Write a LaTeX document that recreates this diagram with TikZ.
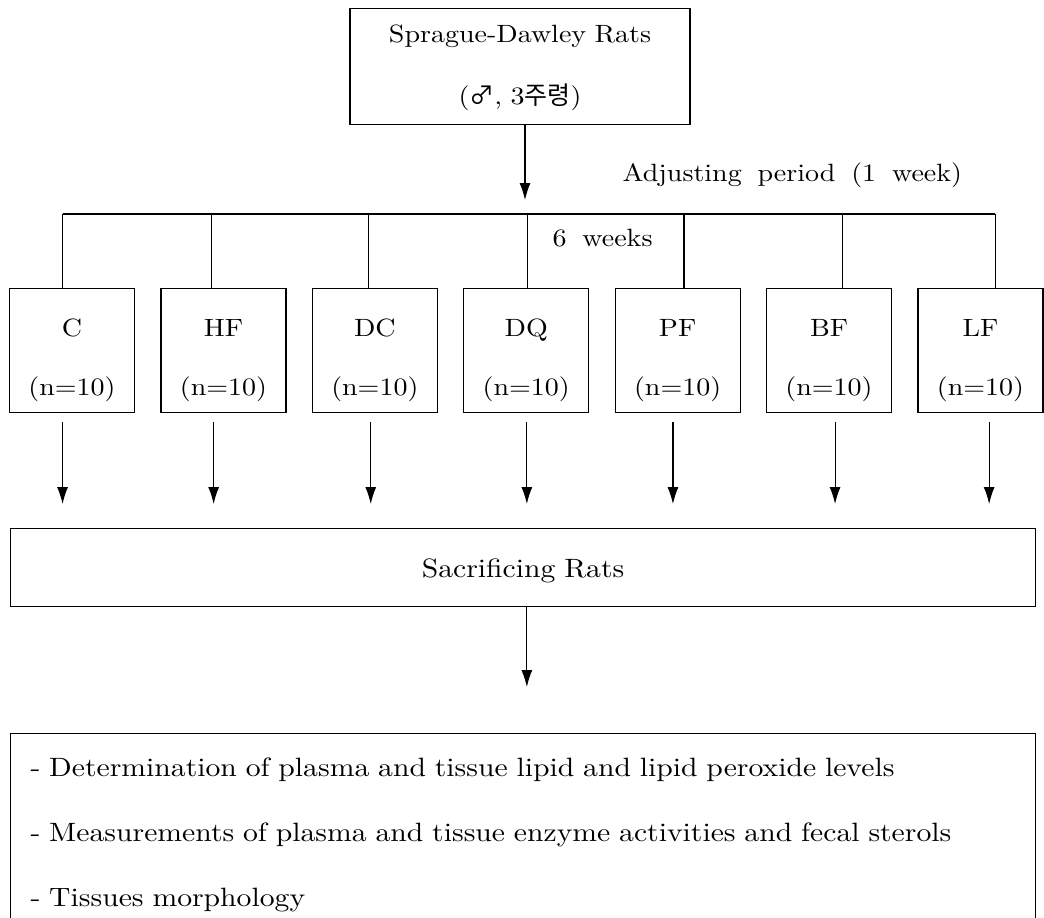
\documentclass[tikz,border=0pt]{standalone}
\usepackage{fontspec}
\setmainfont{lmroman10-regular.otf}[FakeStretch=1.12, WordSpace=1.7]
\newfontfamily\cjk{Noto Sans CJK KR}
\usetikzlibrary{arrows.meta, positioning}

\begin{document}
\begin{tikzpicture}[x=1pt, y=-1pt, line width=1.1pt, node distance=25.3pt,
    >={Latex[length=17pt,width=11pt]}, font=\fontsize{25}{59}\selectfont]
    % Styles
    \tikzstyle{block} = [rectangle, draw, inner sep=0pt, align=center]
    \tikzstyle{group} = [block, text width=125pt, text height=48pt, text depth=76pt]
    \tikzstyle{wide} = [block, text width=1025pt, font=\fontsize{26.5}{65}\selectfont]
    \tikzstyle{caption} = [inner sep=0pt]
    \tikzstyle{arrow} = [->]

    \useasboundingbox (0,0) rectangle (1044,918);

    % Nodes
    \node[block, anchor=north, text width=340pt, text height=34pt, text depth=82pt,
        font=\fontsize{25}{62}\selectfont] (rats) at (520,8)
        {Sprague-Dawley Rats\\({\cjk ♂}, 3{\cjk 주령})};
    \node[group, anchor=north west] (c) at (9,288) {C\\(n=10)};
    \node[group, right=of c] (hf) {HF\\(n=10)};
    \node[group, right=of hf] (dc) {DC\\(n=10)};
    \node[group, right=of dc] (dq) {DQ\\(n=10)};
    \node[group, right=of dq] (pf) {PF\\(n=10)};
    \node[group, right=of pf] (bf) {BF\\(n=10)};
    \node[group, right=of bf] (lf) {LF\\(n=10)};
    \node[wide, anchor=north west, text height=49pt, text depth=29pt] (sacrifice) at (10,528)
        {Sacrificing Rats};
    \node[wide, anchor=north west, align=left, text width=985pt, inner xsep=20pt,
        text height=43pt, text depth=300pt] (results) at (10,733)
        {- Determination of plasma and tissue lipid and lipid peroxide levels\\
         - Measurements of plasma and tissue enzyme activities and fecal sterols\\
         - Tissues morphology};
    \coordinate (split) at (525,214);
    \node[caption, above right=26pt and 97pt of split] (adjust) {Adjusting period (1 week)};
    \node[caption, below right=15pt and 27pt of split] (weeks) {6 weeks};

    % Paths
    \draw[arrow, shorten >=14pt] (split |- rats.south) -- (split);
    \draw ([xshift=-9.5pt]c.north |- split) -- ([xshift=14.7pt]lf.north |- split);
    \foreach \g/\d/\a in {c/-9.5/-9.5, hf/-11.8/-9.8, dc/-6.1/-4.1, dq/1.6/0.6,
                          pf/6.3/-4.7, bf/13/6, lf/14.7/8.7} {
        \draw ([xshift=\d pt]\g.north |- split) -- ([xshift=\d pt]\g.north);
        \draw[arrow, shorten <=9pt, shorten >=24pt] ([xshift=\a pt]\g.south)
            -- ([xshift=\a pt]\g.south |- sacrifice.north);
    }
    \draw[arrow, shorten >=46pt] ([xshift=0.6pt]dq.south |- sacrifice.south)
        -- ([xshift=0.6pt]dq.south |- results.north);
\end{tikzpicture}
\end{document}
